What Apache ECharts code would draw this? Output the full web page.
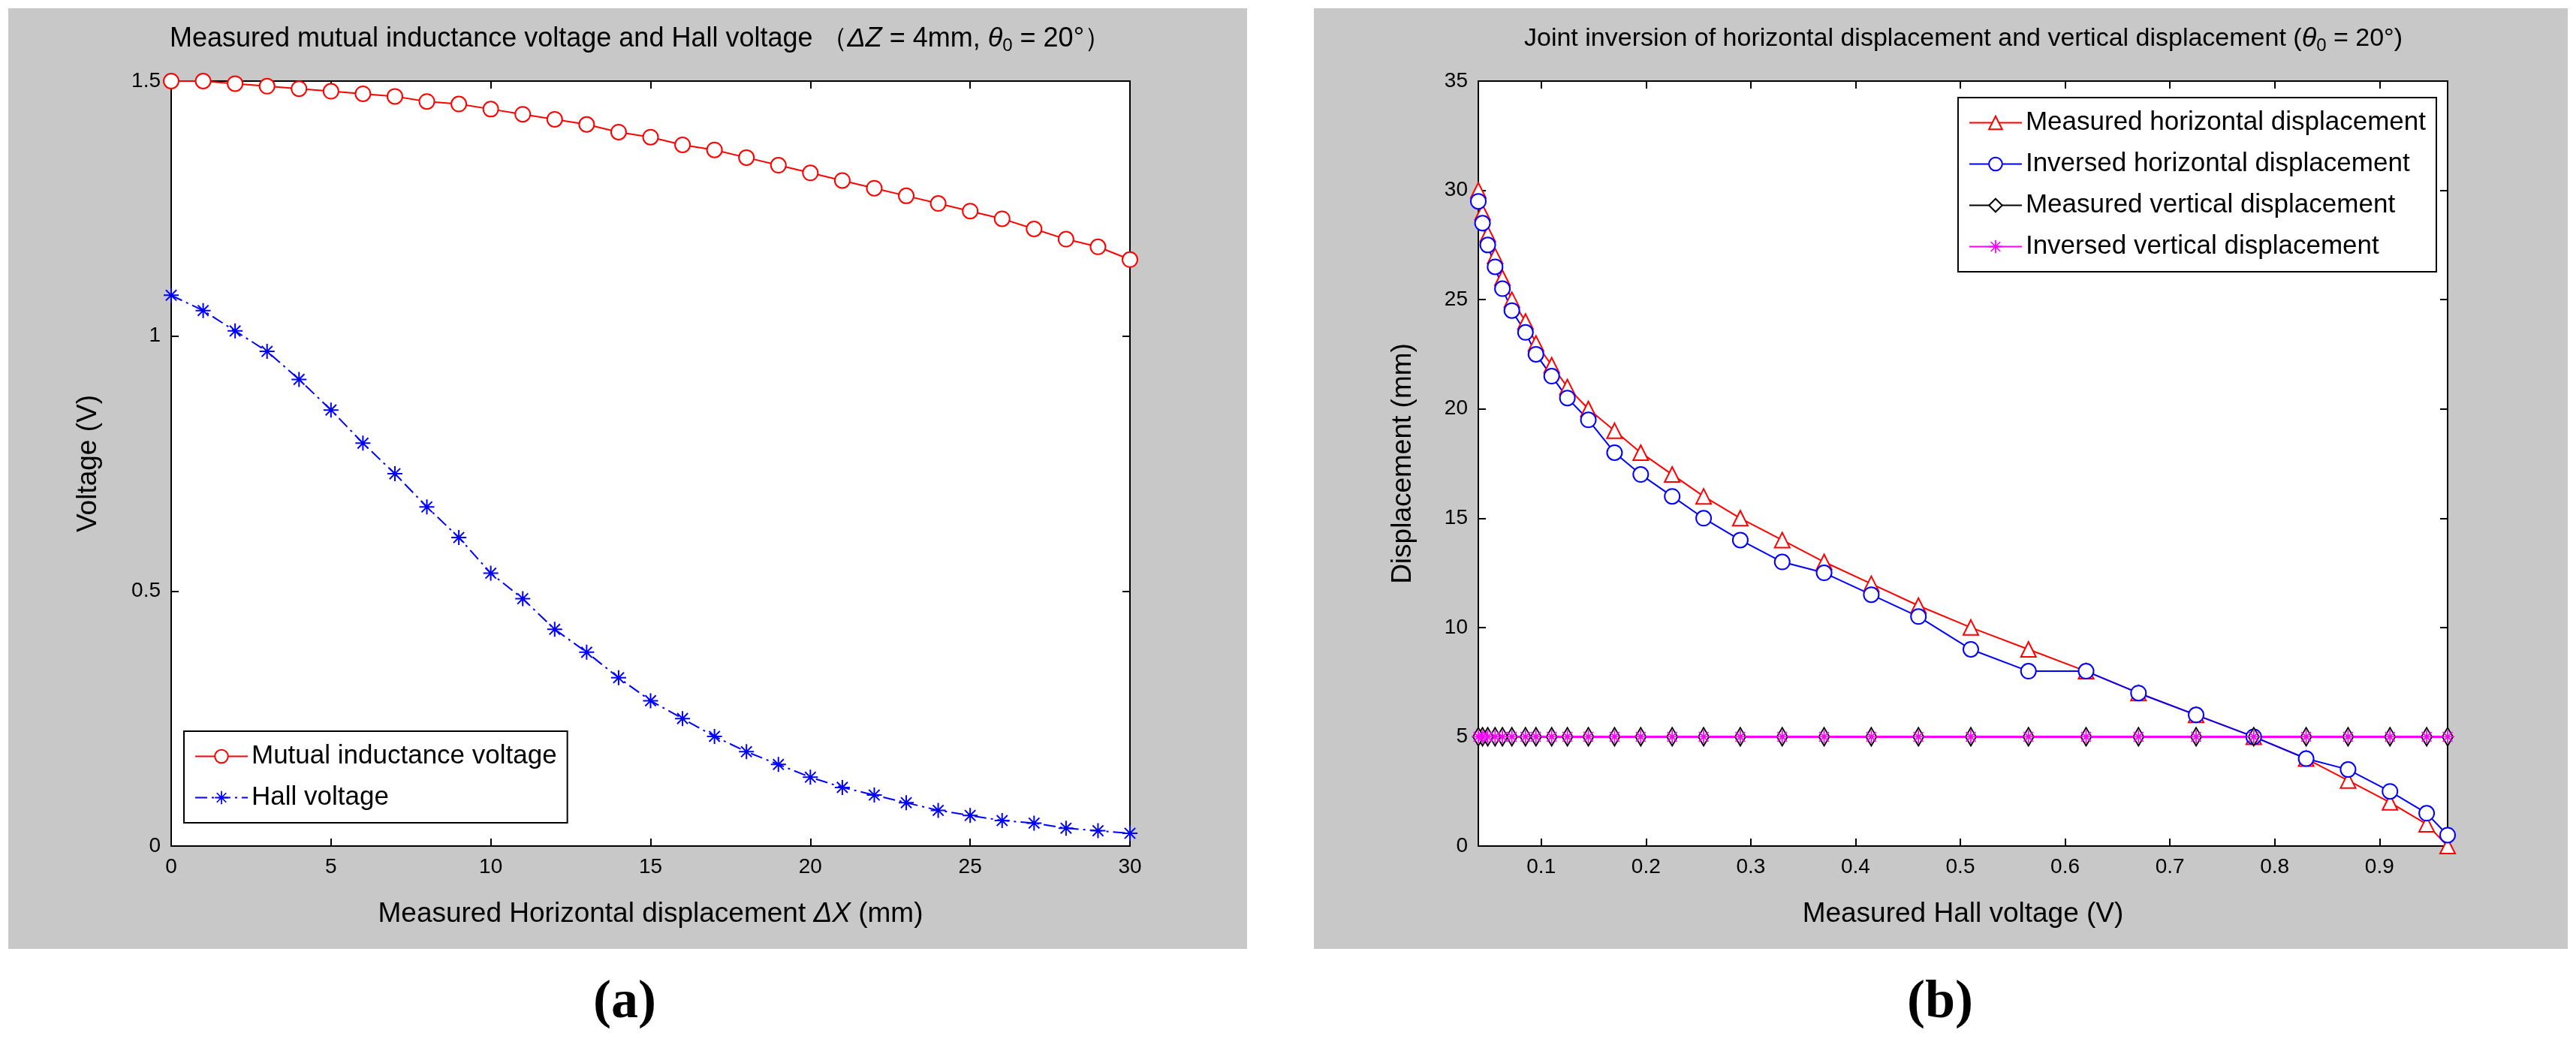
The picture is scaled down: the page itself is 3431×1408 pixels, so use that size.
<!DOCTYPE html>
<html>
<head>
<meta charset="utf-8">
<script src="https://cdn.jsdelivr.net/npm/echarts@6/dist/echarts.min.js"></script>
<style>
  html, body { margin: 0; padding: 0; background: #fff; }
  #main { width: 3431px; height: 1408px; }
</style>
</head>
<body>
<div id="main"></div>
<script>
// panel (a)
const dxValues = [0,1,2,3,4,5,6,7,8,9,10,11,12,13,14,15,16,17,18,19,20,21,22,23,24,25,26,27,28,29,30];
const mutualVoltage = [1.50,1.50,1.495,1.49,1.485,1.48,1.475,1.47,1.46,1.455,1.445,1.435,1.425,1.415,1.40,1.39,1.375,1.365,1.35,1.335,1.32,1.305,1.29,1.275,1.26,1.245,1.23,1.21,1.19,1.175,1.15];
const hallVoltage = [1.08,1.05,1.01,0.97,0.915,0.855,0.79,0.73,0.665,0.605,0.535,0.485,0.425,0.38,0.33,0.285,0.25,0.215,0.185,0.16,0.135,0.115,0.10,0.085,0.07,0.06,0.05,0.045,0.035,0.03,0.025];

// panel (b)
const hallMeasured = [0.965,0.945,0.91,0.87,0.83,0.78,0.725,0.67,0.62,0.565,0.51,0.46,0.415,0.37,0.33,0.29,0.255,0.225,0.195,0.17,0.145,0.125,0.11,0.095,0.085,0.072,0.063,0.056,0.049,0.044,0.04];
const measuredHoriz = [0,1,2,3,4,5,6,7,8,9,10,11,12,13,14,15,16,17,18,19,20,21,22,23,24,25,26,27,28,29,30];
const inversedHoriz = [0.5,1.5,2.5,3.5,4,5,6,7,8,8,9,10.5,11.5,12.5,13,14,15,16,17,18,19.5,20.5,21.5,22.5,23.5,24.5,25.5,26.5,27.5,28.5,29.5];
const measuredVert = [5,5,5,5,5,5,5,5,5,5,5,5,5,5,5,5,5,5,5,5,5,5,5,5,5,5,5,5,5,5,5];
const inversedVert = [5,5,5,5,5,5,5,5,5,5,5,5,5,5,5,5,5,5,5,5,5,5,5,5,5,5,5,5,5,5,5];
const bTicks = [0.1,0.2,0.3,0.4,0.5,0.6,0.7,0.8,0.9];

const zip = (xs, ys) => xs.map((x, i) => [x, ys[i]]);

const FONT = 'Liberation Sans';
const star = 'path://M9,0h2v7.6l5.4-5.4l1.4,1.4l-5.4,5.4h7.6v2h-7.6l5.4,5.4l-1.4,1.4l-5.4-5.4v7.6h-2v-7.6l-5.4,5.4l-1.4-1.4l5.4-5.4h-7.6v-2h7.6l-5.4-5.4l1.4-1.4l5.4,5.4z';

const chart = echarts.init(document.getElementById('main'));

function axis(grid, extra, mirror) {
  return Object.assign({
    gridIndex: grid,
    axisLine: { show: true, onZero: false, lineStyle: { color: '#000', width: 2 } },
    axisTick: { show: true, inside: true, length: 10, lineStyle: { color: '#000', width: 2 } },
    axisLabel: mirror ? { show: false } : { color: '#000', fontFamily: FONT, fontSize: 28, margin: 14 },
    splitLine: { show: false }
  }, extra);
}

const nameStyle = { color: '#000', fontFamily: FONT, fontSize: 37 };
const titleRich = {
  i: { fontStyle: 'italic', fontSize: 36, fontFamily: FONT },
  s: { fontSize: 24, verticalAlign: 'bottom', padding: [18, 0, 0, 0], fontFamily: FONT }
};

chart.setOption({
  backgroundColor: '#fff',
  animation: false,
  graphic: [
    { type: 'rect', shape: { x: 11, y: 11, width: 1650, height: 1253 }, style: { fill: '#c8c8c8' }, z: -10 },
    { type: 'rect', shape: { x: 1750, y: 11, width: 1670, height: 1253 }, style: { fill: '#c8c8c8' }, z: -10 },
    { type: 'text', left: 790, top: 1300, style: { text: '(a)', font: 'bold 72px "Liberation Serif"', fill: '#000' } },
    { type: 'text', left: 2540, top: 1300, style: { text: '(b)', font: 'bold 72px "Liberation Serif"', fill: '#000' } }
  ],
  title: [
    {
      text: 'Measured mutual inductance voltage and Hall voltage （{i|ΔZ} = 4mm, {i|θ}{s|0} = 20°）',
      left: 848, top: 26, textAlign: 'center',
      textStyle: { fontFamily: FONT, fontSize: 36, fontWeight: 'normal', color: '#000', rich: titleRich }
    },
    {
      text: 'Joint inversion of horizontal displacement and vertical displacement ({i|θ}{s|0} = 20°)',
      left: 2610, top: 26, textAlign: 'center',
      textStyle: { fontFamily: FONT, fontSize: 34, fontWeight: 'normal', color: '#000', rich: titleRich }
    }
  ],
  grid: [
    { left: 228, top: 108, width: 1277, height: 1019, show: true, backgroundColor: '#fff', borderWidth: 0 },
    { left: 1969, top: 108, width: 1291, height: 1019, show: true, backgroundColor: '#fff', borderWidth: 0 }
  ],
  xAxis: [
    axis(0, { type: 'value', min: 0, max: 30, interval: 5, position: 'bottom',
      name: 'Measured Horizontal displacement {i|ΔX} (mm)', nameLocation: 'middle', nameGap: 72,
      nameTextStyle: Object.assign({ rich: { i: { fontStyle: 'italic', fontSize: 37, fontFamily: FONT } } }, nameStyle) }),
    axis(0, { type: 'value', min: 0, max: 30, interval: 5, position: 'top' }, true),
    axis(1, { type: 'value', min: 0.04, max: 0.965, position: 'bottom',
      axisLabel: { color: '#000', fontFamily: FONT, fontSize: 28, margin: 14, customValues: bTicks, formatter: v => v.toFixed(1) },
      axisTick: { show: true, inside: true, length: 10, lineStyle: { color: '#000', width: 2 }, customValues: bTicks },
      name: 'Measured Hall voltage (V)', nameLocation: 'middle', nameGap: 72, nameTextStyle: nameStyle }),
    axis(1, { type: 'value', min: 0.04, max: 0.965, position: 'top',
      axisTick: { show: true, inside: true, length: 10, lineStyle: { color: '#000', width: 2 }, customValues: bTicks } }, true)
  ],
  yAxis: [
    axis(0, { type: 'value', min: 0, max: 1.5, interval: 0.5, position: 'left',
      name: 'Voltage (V)', nameLocation: 'middle', nameGap: 92, nameTextStyle: nameStyle }),
    axis(0, { type: 'value', min: 0, max: 1.5, interval: 0.5, position: 'right' }, true),
    axis(1, { type: 'value', min: 0, max: 35, interval: 5, position: 'left',
      name: 'Displacement (mm)', nameLocation: 'middle', nameGap: 82, nameTextStyle: nameStyle }),
    axis(1, { type: 'value', min: 0, max: 35, interval: 5, position: 'right' }, true)
  ],
  legend: [
    {
      data: ['Mutual inductance voltage', 'Hall voltage'],
      left: 245, top: 974, orient: 'vertical', itemWidth: 70, itemHeight: 22, itemGap: 20,
      padding: [16, 14, 16, 14], backgroundColor: '#fff', borderColor: '#000', borderWidth: 2,
      textStyle: { fontFamily: FONT, fontSize: 35, color: '#000' }
    },
    {
      data: ['Measured horizontal displacement', 'Inversed horizontal displacement', 'Measured vertical displacement', 'Inversed vertical displacement'],
      right: 186, top: 130, orient: 'vertical', itemWidth: 70, itemHeight: 22, itemGap: 20,
      padding: [16, 14, 16, 14], backgroundColor: '#fff', borderColor: '#000', borderWidth: 2,
      textStyle: { fontFamily: FONT, fontSize: 35, color: '#000' }
    }
  ],
  series: [
    { name: 'Mutual inductance voltage', type: 'line', xAxisIndex: 0, yAxisIndex: 0,
      data: zip(dxValues, mutualVoltage), symbol: 'emptyCircle', symbolSize: 20,
      itemStyle: { color: '#f00', borderWidth: 2 }, lineStyle: { color: '#f00', width: 2 } },
    { name: 'Hall voltage', type: 'line', xAxisIndex: 0, yAxisIndex: 0,
      data: zip(dxValues, hallVoltage), symbol: star, symbolSize: 20,
      itemStyle: { color: '#00f' }, lineStyle: { color: '#00f', width: 2, type: [16, 6, 3, 6] } },
    { name: 'Measured horizontal displacement', type: 'line', xAxisIndex: 2, yAxisIndex: 2,
      data: zip(hallMeasured, measuredHoriz), symbol: 'emptyTriangle', symbolSize: 20,
      itemStyle: { color: '#f00', borderWidth: 2 }, lineStyle: { color: '#f00', width: 2 } },
    { name: 'Inversed horizontal displacement', type: 'line', xAxisIndex: 2, yAxisIndex: 2,
      data: zip(hallMeasured, inversedHoriz), symbol: 'emptyCircle', symbolSize: 20,
      itemStyle: { color: '#00f', borderWidth: 2 }, lineStyle: { color: '#00f', width: 2 } },
    { name: 'Measured vertical displacement', type: 'line', xAxisIndex: 2, yAxisIndex: 2,
      data: zip(hallMeasured, measuredVert), symbol: 'emptyDiamond', symbolSize: [14, 24],
      itemStyle: { color: '#000', borderWidth: 2 }, lineStyle: { color: '#000', width: 2 } },
    { name: 'Inversed vertical displacement', type: 'line', xAxisIndex: 2, yAxisIndex: 2,
      data: zip(hallMeasured, inversedVert), symbol: star, symbolSize: 18,
      itemStyle: { color: '#f0f' }, lineStyle: { color: '#f0f', width: 3 } }
  ]
});
</script>
</body>
</html>
